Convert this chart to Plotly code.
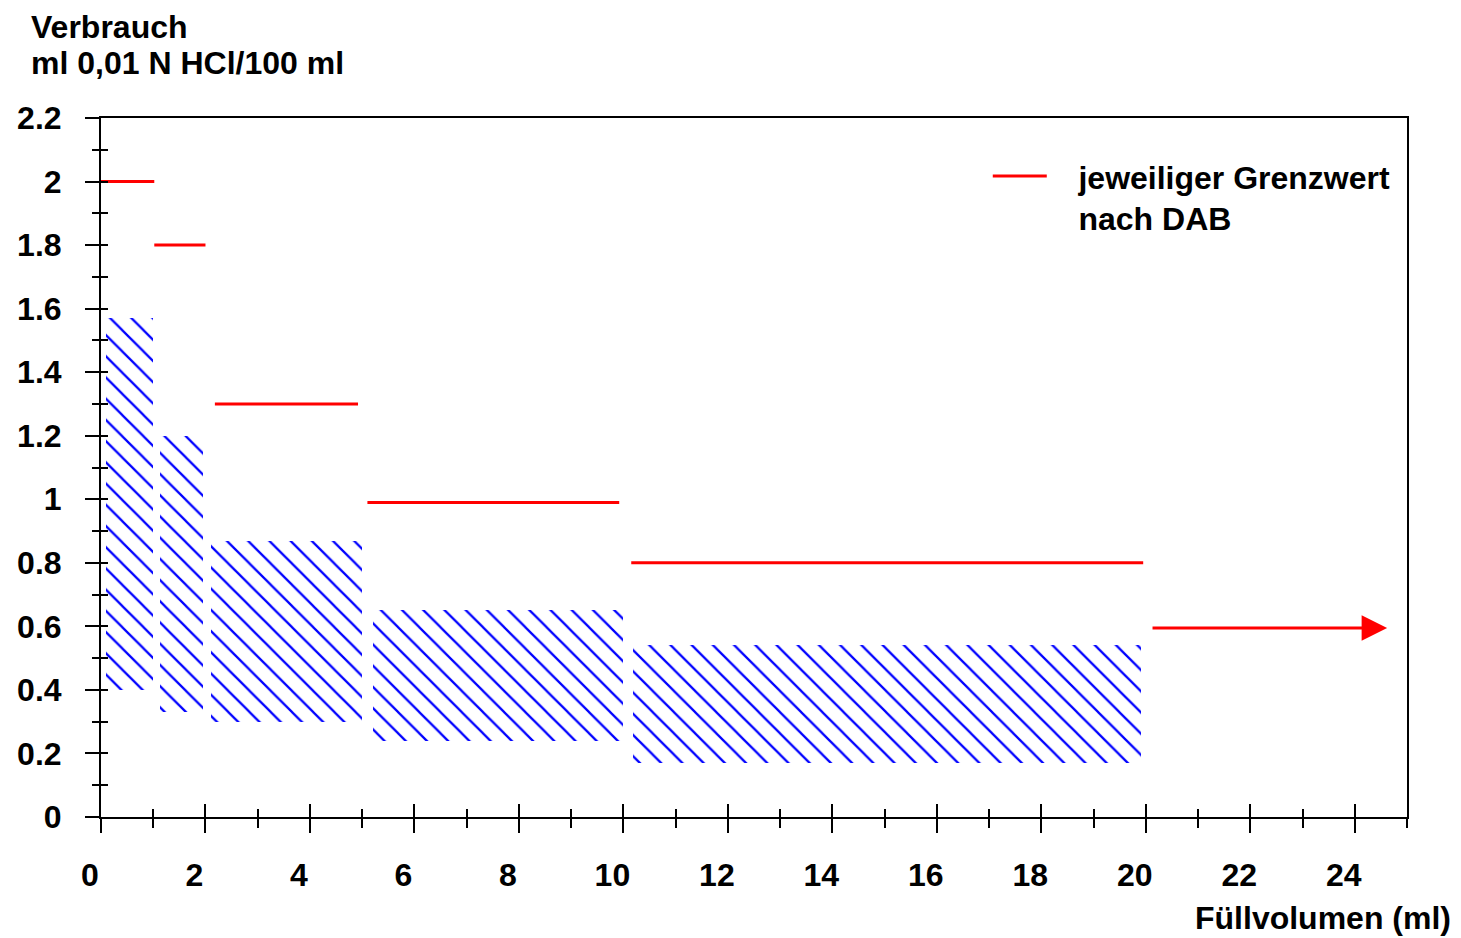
import plotly.graph_objects as go

# Hatched ranges (measured consumption ranges per fill volume class)
range_x_start = [0.1, 1.12, 2.1, 5.2, 10.18]
range_x_end = [1.0, 1.95, 5.0, 10.0, 19.9]
range_low = [0.40, 0.33, 0.30, 0.24, 0.17]
range_high = [1.57, 1.20, 0.87, 0.65, 0.54]

# Limit values (Grenzwert nach DAB)
limit_x_start = [0.0, 1.02, 2.18, 5.1, 10.15]
limit_x_end = [1.02, 2.0, 4.92, 9.92, 19.95]
limit_value = [2.0, 1.8, 1.3, 0.99, 0.80]
arrow_x_start = 20.1
arrow_x_end = 24.62
arrow_value = 0.595

x_ticks = list(range(0, 25, 2))
y_ticks = [0, 0.2, 0.4, 0.6, 0.8, 1.0, 1.2, 1.4, 1.6, 1.8, 2.0, 2.2]
y_tick_text = ["0", "0.2", "0.4", "0.6", "0.8", "1", "1.2", "1.4", "1.6", "1.8", "2", "2.2"]

FONT = "Liberation Sans, Arial, Helvetica, sans-serif"
FS = 32

fig = go.Figure()

centers = [(a + b) / 2 for a, b in zip(range_x_start, range_x_end)]
widths = [b - a for a, b in zip(range_x_start, range_x_end)]
heights = [h - l for l, h in zip(range_low, range_high)]
fig.add_trace(go.Bar(
    x=centers, y=heights, base=range_low, width=widths,
    marker=dict(color="white", line=dict(width=0),
                pattern=dict(shape="\\", fgcolor="#0000ff", bgcolor="white",
                             fgopacity=1, size=15, solidity=0.15)),
    showlegend=False, hoverinfo="skip"))

lx, ly = [], []
for a, b, v in zip(limit_x_start, limit_x_end, limit_value):
    lx += [a, b, None]
    ly += [v, v, None]
NB = "\u00a0\u00a0\u00a0"
fig.add_trace(go.Scatter(x=lx, y=ly, mode="lines",
                         line=dict(color="#ff0000", width=3),
                         name=NB + "jeweiliger Grenzwert<br>" + NB + "nach DAB",
                         showlegend=True))

fig.add_annotation(x=arrow_x_end, y=arrow_value, ax=arrow_x_start, ay=arrow_value,
                   xref="x", yref="y", axref="x", ayref="y", text="",
                   showarrow=True, arrowhead=2, arrowsize=1.7, arrowwidth=3,
                   arrowcolor="#ff0000")

axis_common = dict(showgrid=False, zeroline=False, linecolor="black", linewidth=2,
                   tickcolor="black", tickwidth=2, automargin=False)

# page body has an 8px margin, so the figure is sized 8px smaller
fig.update_layout(
    width=1453, height=930,
    margin=dict(l=93, r=54, t=110, b=121),
    plot_bgcolor="white", paper_bgcolor="white",
    font=dict(family=FONT, color="black"),
    bargap=0,
    xaxis=dict(range=[0, 25], tickvals=x_ticks, ticks="outside", ticklen=14,
               showline=True, mirror=True,
               minor=dict(dtick=1, tick0=0, ticks="outside", ticklen=9,
                          tickcolor="black", tickwidth=2),
               tickfont=dict(size=FS, family=FONT, weight="bold"),
               ticklabelstandoff=15, ticklabelshift=-11,
               **axis_common),
    yaxis=dict(range=[0, 2.2], tickvals=y_ticks, ticktext=y_tick_text,
               ticks="outside", ticklen=14, showline=True, mirror=True,
               minor=dict(dtick=0.1, tick0=0, ticks="outside", ticklen=7,
                          tickcolor="black", tickwidth=2),
               tickfont=dict(size=FS, family=FONT, weight="bold"),
               ticklabelstandoff=17,
               **axis_common),
    xaxis2=dict(range=[0, 25], overlaying="x", tickvals=x_ticks, ticks="inside",
                ticklen=13, showticklabels=False, showline=False, showgrid=False,
                zeroline=False, tickcolor="black", tickwidth=2,
                minor=dict(dtick=1, tick0=0, ticks="inside", ticklen=8,
                           tickcolor="black", tickwidth=2)),
    yaxis2=dict(range=[0, 2.2], overlaying="y", tickvals=y_ticks, ticks="inside",
                ticklen=7, showticklabels=False, showline=False, showgrid=False,
                zeroline=False, tickcolor="black", tickwidth=2,
                minor=dict(dtick=0.1, tick0=0, ticks="inside", ticklen=7,
                           tickcolor="black", tickwidth=2)),
    legend=dict(x=0.679, y=0.956, xanchor="left", yanchor="top",
                bgcolor="rgba(0,0,0,0)", valign="top", itemwidth=54,
                font=dict(size=FS, family=FONT, weight="bold")),
)

# invisible trace so the overlay axes (inside ticks) are drawn
fig.add_trace(go.Scatter(x=[None], y=[None], xaxis="x2", yaxis="y2",
                         showlegend=False, hoverinfo="skip"))

fig.add_annotation(text="<b>Verbrauch</b>",
                   xref="paper", yref="paper", x=-0.0547, y=1.1302,
                   xanchor="left", yanchor="middle", align="left", showarrow=False,
                   borderpad=0, font=dict(size=FS, family=FONT))
fig.add_annotation(text="<b>ml 0,01 N HCl/100 ml</b>",
                   xref="paper", yref="paper", x=-0.0547, y=1.0787,
                   xanchor="left", yanchor="middle", align="left", showarrow=False,
                   borderpad=0, font=dict(size=FS, family=FONT))
fig.add_annotation(text="<b>Füllvolumen (ml)</b>",
                   xref="paper", yref="paper", x=1.0355, y=-0.1445,
                   xanchor="right", yanchor="middle", showarrow=False,
                   font=dict(size=FS, family=FONT))

fig.write_html("out.html")
